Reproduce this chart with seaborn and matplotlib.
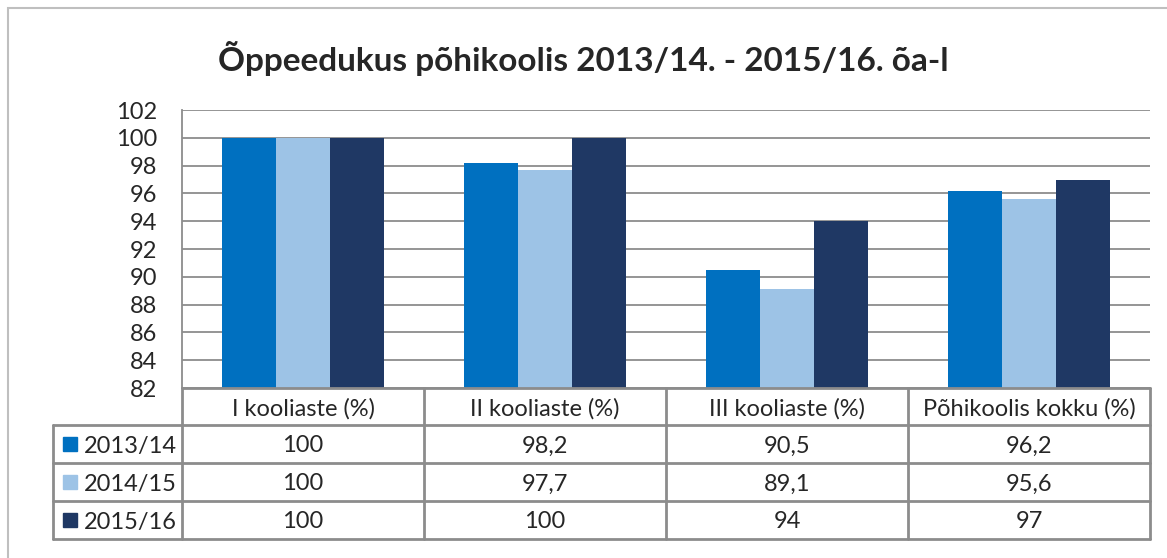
import matplotlib.pyplot as plt
import seaborn as sns
import pandas as pd
from matplotlib.lines import Line2D
from matplotlib.patches import Rectangle

categories = ["I kooliaste (%)", "II kooliaste (%)", "III kooliaste (%)", "Põhikoolis kokku (%)"]
years = ["2013/14", "2014/15", "2015/16"]
v_2013 = [100, 98.2, 90.5, 96.2]
v_2014 = [100, 97.7, 89.1, 95.6]
v_2015 = [100, 100, 94, 97]
colors = ["#0070C0", "#9DC3E6", "#1F3864"]

series = {"2013/14": v_2013, "2014/15": v_2014, "2015/16": v_2015}
rows = []
for yr, vals in series.items():
    for cat, v in zip(categories, vals):
        rows.append({"kategooria": cat, "aasta": yr, "vaartus": v})
df = pd.DataFrame(rows)

sns.set_style("white")
plt.rcParams["font.family"] = ["Lato", "DejaVu Sans"]

W, H = 1167, 558
fig = plt.figure(figsize=(W / 100, H / 100), dpi=100)
FS = 17


def fx(px):
    return px / W


def fy(py):
    return 1 - py / H


left, right, top, bottom = 182, 1150, 110, 388
ax = fig.add_axes([fx(left), fy(bottom), fx(right - left), (bottom - top) / H])

sns.barplot(data=df, x="kategooria", y="vaartus", hue="aasta", palette=colors,
            width=0.67, gap=0, saturation=1, ax=ax, legend=False, linewidth=0)

ax.set_ylim(82, 102)
ax.set_yticks(range(82, 103, 2))
ax.set_xlim(-0.5, len(categories) - 0.5)
ax.yaxis.grid(True, color="#8c8c8c", linewidth=1.3)
ax.set_axisbelow(True)
ax.set_xlabel("")
ax.set_ylabel("")
ax.set_xticks([])
ax.tick_params(axis="y", labelsize=FS, length=0, pad=18)
for s in ["top", "right", "bottom"]:
    ax.spines[s].set_visible(False)
ax.spines["left"].set_color("#8c8c8c")
ax.spines["left"].set_linewidth(1.3)

fig.text(fx(583), fy(58), "Õppeedukus põhikoolis 2013/14. - 2015/16. õa-l",
         ha="center", va="center", fontsize=24, fontweight="bold")

# outer chart border
fig.patches.append(Rectangle((fx(8), fy(600)), fx(1200), fy(8) - fy(600),
                             transform=fig.transFigure, fill=False,
                             edgecolor="#bfbfbf", linewidth=1.5))

# data table
line_c = "#8c8c8c"
row_y = [388, 425, 463, 501, 539]
col_x = [left + i * (right - left) / len(categories) for i in range(len(categories) + 1)]
leg_x = 53
dy = 2  # nudge text down a little to centre it in the cells


def hline(x0, x1, y):
    fig.lines.append(Line2D([fx(x0), fx(x1)], [fy(y), fy(y)], transform=fig.transFigure,
                            color=line_c, linewidth=2))


def vline(x, y0, y1):
    fig.lines.append(Line2D([fx(x), fx(x)], [fy(y0), fy(y1)], transform=fig.transFigure,
                            color=line_c, linewidth=2))


hline(left, right, row_y[0])
for y in row_y[1:]:
    hline(leg_x, right, y)
vline(leg_x, row_y[1], row_y[-1])
for x in col_x:
    vline(x, row_y[0], row_y[-1])

for i, cat in enumerate(categories):
    cx = (col_x[i] + col_x[i + 1]) / 2
    fig.text(fx(cx), fy((row_y[0] + row_y[1]) / 2 + dy), cat, ha="center", va="center", fontsize=FS)

for r, (yr, vals) in enumerate(series.items()):
    cy = (row_y[r + 1] + row_y[r + 2]) / 2
    fig.patches.append(Rectangle((fx(63), fy(cy + 7)), fx(14), fy(cy - 7) - fy(cy + 7),
                                 transform=fig.transFigure, color=colors[r]))
    fig.text(fx(84), fy(cy + dy), yr, ha="left", va="center", fontsize=FS)
    for i, v in enumerate(vals):
        cx = (col_x[i] + col_x[i + 1]) / 2
        txt = f"{v:g}".replace(".", ",")
        fig.text(fx(cx), fy(cy + dy), txt, ha="center", va="center", fontsize=FS)

fig.savefig("out.png", dpi=100)
